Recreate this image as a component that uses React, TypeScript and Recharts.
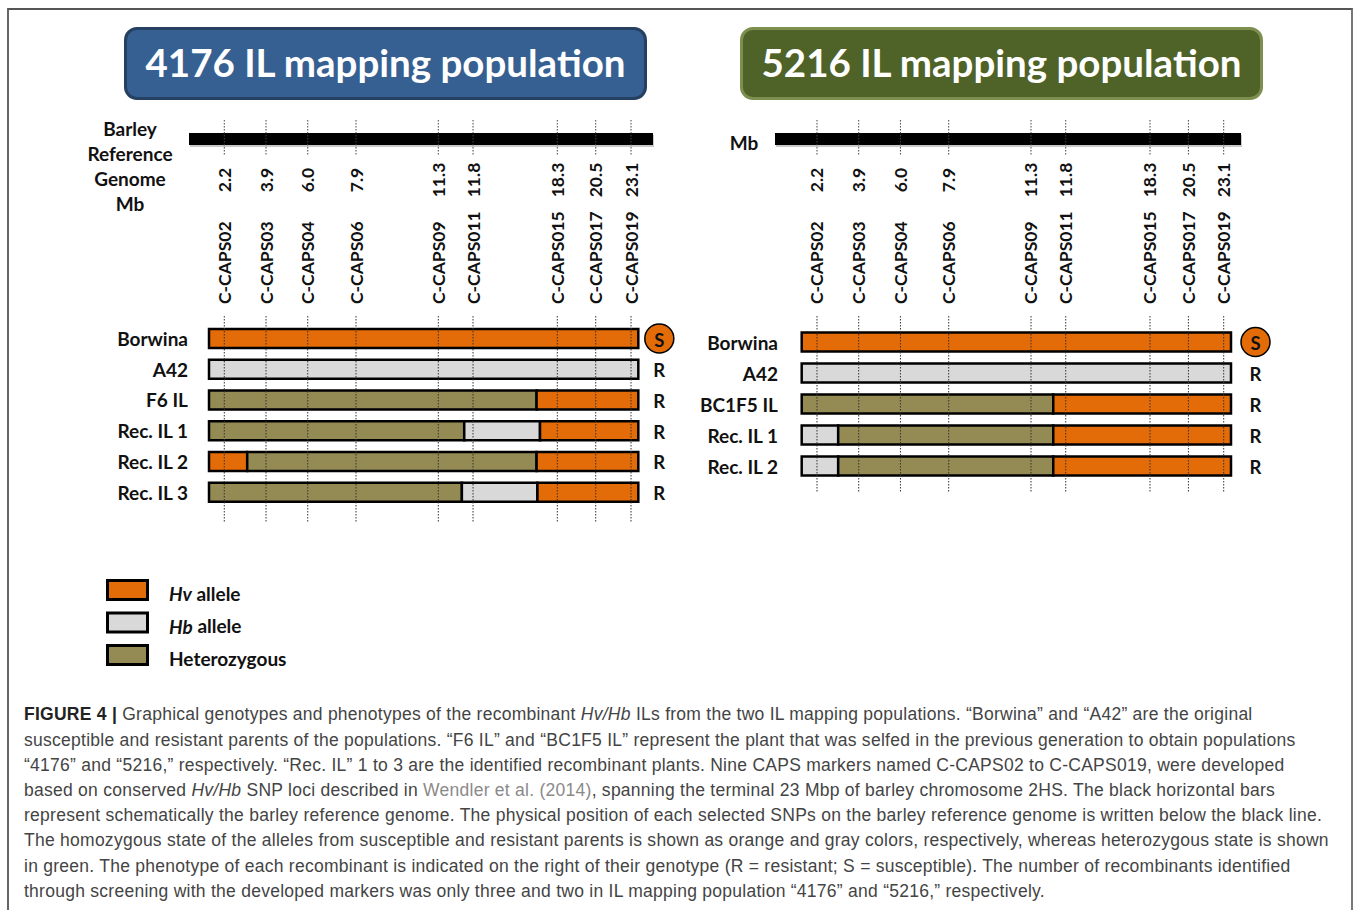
import React from 'react';
import { BarChart, Bar, XAxis, YAxis, ReferenceLine, Cell, LabelList } from 'recharts';

// ---- Marker loci on the schematic chromosome map (shared by both populations) ----
const markerNames = ['C-CAPS02', 'C-CAPS03', 'C-CAPS04', 'C-CAPS06', 'C-CAPS09', 'C-CAPS011', 'C-CAPS015', 'C-CAPS017', 'C-CAPS019'];
const markerMb = ['2.2', '3.9', '6.0', '7.9', '11.3', '11.8', '18.3', '20.5', '23.1'];
// schematic position of each marker along the drawn segment (segment = 0..100 map units)
const markerPos = [3.56, 13.28, 23.0, 34.24, 53.41, 61.5, 81.13, 90.08, 98.3];

// ---- 4176 IL mapping population (segment lengths in map units, left to right) ----
const lines4176 = ['Borwina', 'A42', 'F6 IL', 'Rec. IL 1', 'Rec. IL 2', 'Rec. IL 3'];
const seg1_4176 = [0, 0, 0, 59.45, 8.9, 58.9];
const gen1_4176 = ['', '', '', 'Het', 'Hv', 'Het'];
const seg2_4176 = [0, 0, 76.3, 17.65, 67.4, 17.6];
const gen2_4176 = ['', '', 'Het', 'Hb', 'Het', 'Hb'];
const seg3_4176 = [100, 100, 23.7, 22.9, 23.7, 23.5];
const gen3_4176 = ['Hv', 'Hb', 'Hv', 'Hv', 'Hv', 'Hv'];
const phen4176 = ['S', 'R', 'R', 'R', 'R', 'R'];

// ---- 5216 IL mapping population ----
const lines5216 = ['Borwina', 'A42', 'BC1F5 IL', 'Rec. IL 1', 'Rec. IL 2'];
const seg1_5216 = [0, 0, 0, 8.5, 8.5];
const gen1_5216 = ['', '', '', 'Hb', 'Hb'];
const seg2_5216 = [0, 0, 58.6, 50.1, 50.1];
const gen2_5216 = ['', '', 'Het', 'Het', 'Het'];
const seg3_5216 = [100, 100, 41.4, 41.4, 41.4];
const gen3_5216 = ['Hv', 'Hb', 'Hv', 'Hv', 'Hv'];
const phen5216 = ['S', 'R', 'R', 'R', 'R'];

// ---- Legend ----
const legendKeys = ['Hv', 'Hb', 'Het'];
const legendItalic = ['Hv', 'Hb', ''];
const legendText = [' allele', ' allele', 'Heterozygous'];

const alleleColors: Record<string, string> = { Hv: '#E36C09', Hb: '#D9D9D9', Het: '#948A54' };

const FONT = 'Lato, "Open Sans", sans-serif';

type Row = {
  name: string; s1: number; s2: number; s3: number; g1: string; g2: string; g3: string; phen: string;
};

function buildRows(lines: string[], s1: number[], g1: string[], s2: number[], g2: string[], s3: number[], g3: string[], phen: string[]): Row[] {
  return lines.map((name, i) => ({ name, s1: s1[i], s2: s2[i], s3: s3[i], g1: g1[i], g2: g2[i], g3: g3[i], phen: phen[i] }));
}

const rows4176 = buildRows(lines4176, seg1_4176, gen1_4176, seg2_4176, gen2_4176, seg3_4176, gen3_4176, phen4176);
const rows5216 = buildRows(lines5216, seg1_5216, gen1_5216, seg2_5216, gen2_5216, seg3_5216, gen3_5216, phen5216);

const MarkerTick = (props: any) => {
  const { x, y, payload } = props;
  const i = markerPos.indexOf(payload.value);
  return (
    <g>
      <line x1={x} x2={x} y1={y - 196} y2={y - 161} stroke="#444" strokeWidth={1} strokeDasharray="1.5 1.5" />
      <text
        transform={`translate(${x},${y - 136}) rotate(-90)`}
        textAnchor="middle"
        dominantBaseline="central"
        fontFamily={FONT}
        fontWeight={700}
        fontSize={17.5}
        fill="#111"
      >
        {markerMb[i]}
      </text>
      <text
        transform={`translate(${x},${y - 12}) rotate(-90)`}
        textAnchor="start"
        dominantBaseline="central"
        fontFamily={FONT}
        fontWeight={700}
        fontSize={17.5}
        fill="#111"
      >
        {markerNames[i]}
      </text>
    </g>
  );
};

const makeGenome = (titleLines: string[], titleDx: number, titleDy: number[]) => (props: any) => {
  const vb = props.viewBox || props;
  const { x, y, width, height } = vb;
  const plotTop = y + height;
  const top = plotTop - 183;
  return (
    <g>
      <rect x={x + 1} y={top + 2} width={width} height={12} fill="#888" opacity={0.45} />
      <rect x={x} y={top} width={width} height={12} fill="#000" />
      {titleLines.map((t, i) => (
        <text
          key={i}
          x={x + titleDx}
          y={plotTop + titleDy[i]}
          textAnchor="middle"
          dominantBaseline="central"
          fontFamily={FONT}
          fontWeight={700}
          fontSize={19}
          fill="#111"
        >
          {t}
        </text>
      ))}
    </g>
  );
};

const makeRowTick = (dx: number) => (props: any) => {
  const { x, y, payload } = props;
  return (
    <text x={x + dx} y={y} textAnchor="end" dominantBaseline="central" fontFamily={FONT} fontWeight={700} fontSize={19} fill="#111">
      {payload.value}
    </text>
  );
};

const makePhen = (dx: number) => (props: any) => {
  const vb = props.viewBox || props;
  const x = Number(vb.x);
  const w = Number(vb.width);
  const cy = Number(vb.y) + Number(vb.height) / 2;
  const cx = x + w + dx;
  const value = props.value;
  return (
    <g>
      {value === 'S' && <circle cx={cx} cy={cy} r={14.5} fill="#E36C09" stroke="#000" strokeWidth={1.5} />}
      <text x={cx} y={cy + 1} textAnchor="middle" dominantBaseline="central" fontFamily={FONT} fontWeight={700} fontSize={18.5} fill="#111">
        {value}
      </text>
    </g>
  );
};

type PanelProps = {
  rows: Row[];
  width: number;
  height: number;
  margin: { top: number; right: number; bottom: number; left: number };
  yWidth: number;
  domain: [number, number];
  pad: { top: number; bottom: number };
  labelDx: number;
  phenDx: number;
  titleLines: string[];
  titleDx: number;
  titleDy: number[];
};

const Panel = (p: PanelProps) => (
  <BarChart layout="vertical" width={p.width} height={p.height} data={p.rows} margin={p.margin} barSize={19}>
    <XAxis
      type="number"
      orientation="top"
      domain={p.domain}
      allowDataOverflow
      ticks={markerPos}
      interval={0}
      tick={(tp: any) => <MarkerTick {...tp} />}
      tickLine={false}
      axisLine={false}
      tickSize={0}
      tickMargin={0}
      height={200}
      label={{ content: makeGenome(p.titleLines, p.titleDx, p.titleDy) } as any}
    />
    <YAxis
      type="category"
      dataKey="name"
      width={p.yWidth}
      interval={0}
      tickLine={false}
      axisLine={false}
      tickSize={0}
      tickMargin={0}
      padding={p.pad as any}
      tick={makeRowTick(p.labelDx)}
    />
    <Bar dataKey="s1" stackId="g" stroke="#000" strokeWidth={2.5} isAnimationActive={false}>
      {p.rows.map((r, i) => (
        <Cell key={i} fill={alleleColors[r.g1] || 'none'} />
      ))}
    </Bar>
    <Bar dataKey="s2" stackId="g" stroke="#000" strokeWidth={2.5} isAnimationActive={false}>
      {p.rows.map((r, i) => (
        <Cell key={i} fill={alleleColors[r.g2] || 'none'} />
      ))}
    </Bar>
    <Bar dataKey="s3" stackId="g" stroke="#000" strokeWidth={2.5} isAnimationActive={false}>
      {p.rows.map((r, i) => (
        <Cell key={i} fill={alleleColors[r.g3] || 'none'} />
      ))}
      <LabelList dataKey="phen" content={makePhen(p.phenDx)} />
    </Bar>
    {markerPos.map((m) => (
      <ReferenceLine key={m} x={m} stroke="#333" strokeWidth={1} strokeDasharray="1.5 1.5" ifOverflow="visible" />
    ))}
  </BarChart>
);

const titleBox = (left: number, bg: string, border: string, text: string) => (
  <div
    style={{
      position: 'absolute',
      left,
      top: 27,
      width: 523,
      height: 73,
      boxSizing: 'border-box',
      background: bg,
      border: `3px solid ${border}`,
      borderRadius: 13,
      color: '#fff',
      fontFamily: FONT,
      fontWeight: 700,
      fontSize: 38.5,
      display: 'flex',
      alignItems: 'center',
      justifyContent: 'center',
      paddingBottom: 3,
      whiteSpace: 'nowrap',
    }}
  >
    {text}
  </div>
);

const captionStyle: React.CSSProperties = {
  height: 25.2,
  lineHeight: '25.2px',
  whiteSpace: 'nowrap',
};

export default function App() {
  return (
    <div style={{ position: 'absolute', left: 0, top: 0, width: 1357, height: 910, background: '#fff', overflow: 'hidden' }}>
      <div
        style={{
          position: 'absolute',
          left: 7,
          top: 8,
          width: 1346,
          height: 920,
          boxSizing: 'border-box',
          borderTop: '2px solid #555',
          borderLeft: '2px solid #666',
          borderRight: '2px solid #777',
        }}
      />
      {titleBox(124, '#376092', '#254061', '4176 IL mapping population')}
      {titleBox(740, '#4F6228', '#7D8F4E', '5216 IL mapping population')}

      <div style={{ position: 'absolute', left: 0, top: 0 }}>
        <Panel
          rows={rows4176}
          width={690}
          height={560}
          margin={{ top: 116, right: 37, bottom: 38, left: 89 }}
          yWidth={100}
          domain={[-4.66, 103.42]}
          pad={{ top: 7, bottom: 14.6 }}
          labelDx={-1}
          phenDx={21}
          titleLines={['Barley', 'Reference', 'Genome', 'Mb']}
          titleDx={-59}
          titleDy={[-188, -163, -138, -113]}
        />
      </div>
      <div style={{ position: 'absolute', left: 690, top: 0 }}>
        <Panel
          rows={rows5216}
          width={660}
          height={560}
          margin={{ top: 116, right: 109, bottom: 67, left: 5 }}
          yWidth={80}
          domain={[-6.22, 102.33]}
          pad={{ top: 10.5, bottom: 11.5 }}
          labelDx={3}
          phenDx={24.5}
          titleLines={['Mb']}
          titleDx={-31}
          titleDy={[-174]}
        />
      </div>

      <svg style={{ position: 'absolute', left: 0, top: 560 }} width={400} height={130}>
        {legendKeys.map((k, i) => (
          <g key={k}>
            <rect x={107.5} y={20.5 + i * 32.5} width={40} height={19} fill={alleleColors[k]} stroke="#000" strokeWidth={3} />
            <text x={169} y={33 + i * 32.5} dominantBaseline="central" fontFamily={FONT} fontWeight={700} fontSize={19} fill="#111">
              {legendItalic[i] && <tspan fontStyle="italic">{legendItalic[i]}</tspan>}
              {legendText[i]}
            </text>
          </g>
        ))}
      </svg>

      <div
        style={{
          position: 'absolute',
          left: 24,
          top: 702.4,
          fontFamily: '"Liberation Sans", Arial, sans-serif',
          fontWeight: 400,
          fontSize: 17.5,
          letterSpacing: 0.26,
          color: '#444',
        }}
      >
        <div style={captionStyle}>
          <b style={{ fontWeight: 700, color: '#222' }}>FIGURE 4 |</b> Graphical genotypes and phenotypes of the recombinant <i>Hv/Hb</i> ILs from the two IL mapping populations. “Borwina” and “A42” are the original
        </div>
        <div style={captionStyle}>
          susceptible and resistant parents of the populations. “F6 IL” and “BC1F5 IL” represent the plant that was selfed in the previous generation to obtain populations
        </div>
        <div style={captionStyle}>
          “4176” and “5216,” respectively. “Rec. IL” 1 to 3 are the identified recombinant plants. Nine CAPS markers named C-CAPS02 to C-CAPS019, were developed
        </div>
        <div style={captionStyle}>
          based on conserved <i>Hv/Hb</i> SNP loci described in <span style={{ color: '#8a8a8a' }}>Wendler et al. (2014)</span>, spanning the terminal 23 Mbp of barley chromosome 2HS. The black horizontal bars
        </div>
        <div style={captionStyle}>
          represent schematically the barley reference genome. The physical position of each selected SNPs on the barley reference genome is written below the black line.
        </div>
        <div style={captionStyle}>
          The homozygous state of the alleles from susceptible and resistant parents is shown as orange and gray colors, respectively, whereas heterozygous state is shown
        </div>
        <div style={captionStyle}>
          in green. The phenotype of each recombinant is indicated on the right of their genotype (R = resistant; S = susceptible). The number of recombinants identified
        </div>
        <div style={captionStyle}>
          through screening with the developed markers was only three and two in IL mapping population “4176” and “5216,” respectively.
        </div>
      </div>
    </div>
  );
}
